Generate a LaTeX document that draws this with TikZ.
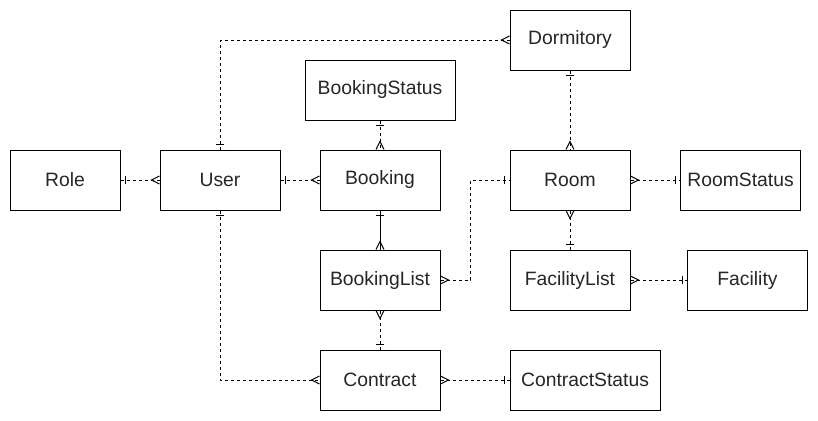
\documentclass[tikz,border=0pt]{standalone}
\usepackage{fontspec}
\setmainfont{Liberation Sans}
\usepackage{tikz}
\usetikzlibrary{arrows.meta, positioning}

% crow's foot ends (drawn solid, line runs to the box)
\pgfdeclarearrow{
  name = ermany,
  setup code = {
    \pgfarrowssettipend{0pt}
    \pgfarrowssetbackend{-6pt}
    \pgfarrowssetlineend{0pt}
  },
  drawing code = {
    \pgfsetdash{}{0pt}
    \pgfpathmoveto{\pgfpoint{0pt}{3pt}}
    \pgfpathlineto{\pgfpoint{-6pt}{0pt}}
    \pgfpathlineto{\pgfpoint{0pt}{-3pt}}
    \pgfusepathqstroke
  }
}
\pgfdeclarearrow{
  name = erone,
  setup code = {
    \pgfarrowssettipend{0pt}
    \pgfarrowssetbackend{-4pt}
    \pgfarrowssetlineend{0pt}
  },
  drawing code = {
    \pgfsetdash{}{0pt}
    \pgfpathmoveto{\pgfpoint{-3.75pt}{3pt}}
    \pgfpathlineto{\pgfpoint{-3.75pt}{-3pt}}
    \pgfusepathqstroke
  }
}

\begin{document}
\begin{tikzpicture}[x=0.75pt, y=-0.75pt, line width=0.75pt,
    entity/.style={rectangle, draw=black, fill=white, text=black!85,
      minimum width=90pt, minimum height=45pt, inner sep=0pt,
      font=\fontsize{14.5}{17}\selectfont},
    wide/.style={minimum width=112.5pt},
    rel/.style={dash pattern=on 2.25pt off 2.25pt}]
    \useasboundingbox (0, 0) rectangle (818, 421);

    \node[entity, minimum width=82.5pt] (role) at (65, 180) {Role};
    \node[entity] (user) at (220, 180) {User};
    \node[entity] (booking) at (380, 180) {Booking};
    \node[entity, wide] (bookingstatus) at (380, 90) {BookingStatus};
    \node[entity] (dormitory) at (570, 40) {Dormitory};
    \node[entity] (room) at (570, 180) {Room};
    \node[entity] (roomstatus) at (740.5, 180) {RoomStatus};
    \node[entity] (bookinglist) at (380, 280) {BookingList};
    \node[entity] (facilitylist) at (570, 280) {FacilityList};
    \node[entity] (facility) at (747.5, 280) {Facility};
    \node[entity] (contract) at (380, 380) {Contract};
    \node[entity, wide] (contractstatus) at (585, 380) {ContractStatus};

    \draw[rel, {erone}-{ermany}] (role) -- (user);
    \draw[rel, {erone}-{ermany}] (user) -- (booking);
    \draw[rel, {erone}-{ermany}] (bookingstatus) -- (booking);
    \draw[{erone}-{ermany}] (booking) -- (bookinglist);
    \draw[rel, {ermany}-{erone}] (bookinglist.east) -- ++(30, 0) |- (room.west);
    \draw[rel, {erone}-{ermany}] (dormitory) -- (room);
    \draw[rel, {erone}-{ermany}] (user.north) |- (dormitory.west);
    \draw[rel, {ermany}-{erone}] (room) -- (roomstatus);
    \draw[rel, {ermany}-{erone}] (room) -- (facilitylist);
    \draw[rel, {ermany}-{erone}] (facilitylist) -- (facility);
    \draw[rel, {ermany}-{erone}] (bookinglist) -- (contract);
    \draw[rel, {erone}-{ermany}] (user.south) |- (contract.west);
    \draw[rel, {ermany}-{erone}] (contract) -- (contractstatus);
\end{tikzpicture}
\end{document}
